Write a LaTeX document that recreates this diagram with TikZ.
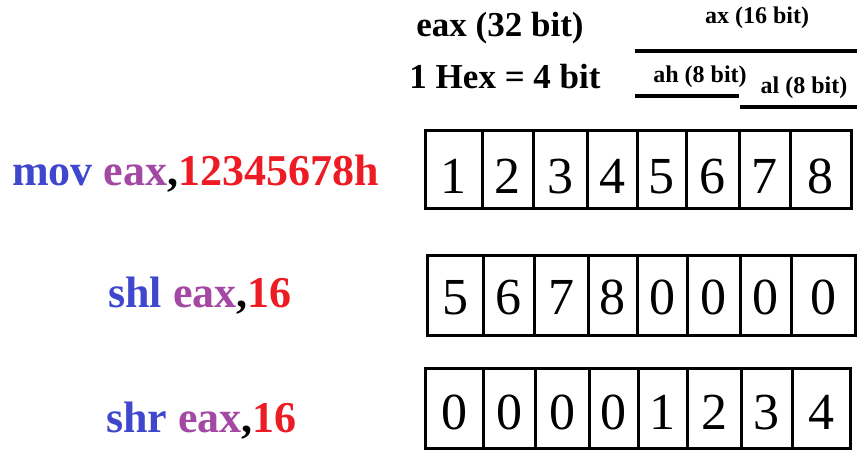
\documentclass[tikz,border=0pt]{standalone}
\usepackage{fontspec}
\setmainfont{Liberation Serif}
\definecolor{opblue}{HTML}{3F48CC}
\definecolor{regpurple}{HTML}{A349A4}
\definecolor{numred}{HTML}{ED1C24}
\begin{document}
\begin{tikzpicture}[x=1pt,y=-1pt,
  cell/.style={draw=black,line width=3pt,rectangle,inner sep=0pt,
    font=\fontsize{52}{56}\selectfont,text depth=0pt},
  rowA/.style={cell,minimum height=78pt,text height=48pt},
  rowB/.style={cell,minimum height=80pt,text height=38pt},
  rowC/.style={cell,minimum height=80pt,text height=42pt},
  instr/.style={anchor=base,inner sep=0pt,font=\bfseries\fontsize{44}{48}\selectfont},
  head/.style={anchor=base,inner sep=0pt,font=\bfseries\fontsize{35}{40}\selectfont},
  sub/.style={anchor=base,inner sep=0pt,font=\bfseries\fontsize{24}{28}\selectfont},
  bar/.style={line width=3.6pt}]
\useasboundingbox (0,0) rectangle (857,450);

% header texts
\node[head] (eax) at (500,36) {eax (32 bit)};
\node[head] (hex) at (505,88) {1 Hex = 4 bit};
\node[sub] (ax) at (757,23) {ax (16 bit)};
\node[sub] (ah) at (700,82) {ah (8 bit)};
\node[sub] (al) at (804,93) {al (8 bit)};

% brackets
\coordinate (axL) at (635,51);  \coordinate (axR) at (857,51);
\coordinate (ahL) at (635,96);  \coordinate (ahR) at (739,96);
\coordinate (alL) at (740,107); \coordinate (alR) at (857,107);
\draw[bar] (axL) -- (axR);
\draw[bar] (ahL) -- (ahR);
\draw[bar] (alL) -- (alR);

% instructions
\node[instr] (mov) at (195.5,185) {\textcolor{opblue}{mov} \textcolor{regpurple}{eax},\textcolor{numred}{12345678h}};
\node[instr] (shl) at (200,307) {\textcolor{opblue}{shl} \textcolor{regpurple}{eax},\textcolor{numred}{16}};
\node[instr] (shr) at (201.5,432) {\textcolor{opblue}{shr} \textcolor{regpurple}{eax},\textcolor{numred}{16}};

% row 1
\node[rowA,minimum width=57pt] (a1) at (453.5,169) {1};
\node[rowA,minimum width=51pt] (a2) at (507.5,169) {2};
\node[rowA,minimum width=54pt] (a3) at (560,169) {3};
\node[rowA,minimum width=50pt] (a4) at (612,169) {4};
\node[rowA,minimum width=49pt] (a5) at (661.5,169) {5};
\node[rowA,minimum width=53pt] (a6) at (712.5,169) {6};
\node[rowA,minimum width=51pt] (a7) at (764.5,169) {7};
\node[rowA,minimum width=61pt] (a8) at (820.5,169) {8};

% row 2
\node[rowB,minimum width=56pt] (b1) at (455,295) {5};
\node[rowB,minimum width=51pt] (b2) at (508.5,295) {6};
\node[rowB,minimum width=54pt] (b3) at (561,295) {7};
\node[rowB,minimum width=49pt] (b4) at (612.5,295) {8};
\node[rowB,minimum width=50pt] (b5) at (662,295) {0};
\node[rowB,minimum width=53pt] (b6) at (713.5,295) {0};
\node[rowB,minimum width=51pt] (b7) at (765.5,295) {0};
\node[rowB,minimum width=64pt] (b8) at (823,295) {0};

% row 3
\node[rowC,minimum width=58pt] (c1) at (454,408) {0};
\node[rowC,minimum width=52pt] (c2) at (509,408) {0};
\node[rowC,minimum width=54pt] (c3) at (562,408) {0};
\node[rowC,minimum width=49pt] (c4) at (613.5,408) {0};
\node[rowC,minimum width=49pt] (c5) at (662.5,408) {1};
\node[rowC,minimum width=54pt] (c6) at (714,408) {2};
\node[rowC,minimum width=51pt] (c7) at (766.5,408) {3};
\node[rowC,minimum width=58pt] (c8) at (821,408) {4};
\end{tikzpicture}
\end{document}
